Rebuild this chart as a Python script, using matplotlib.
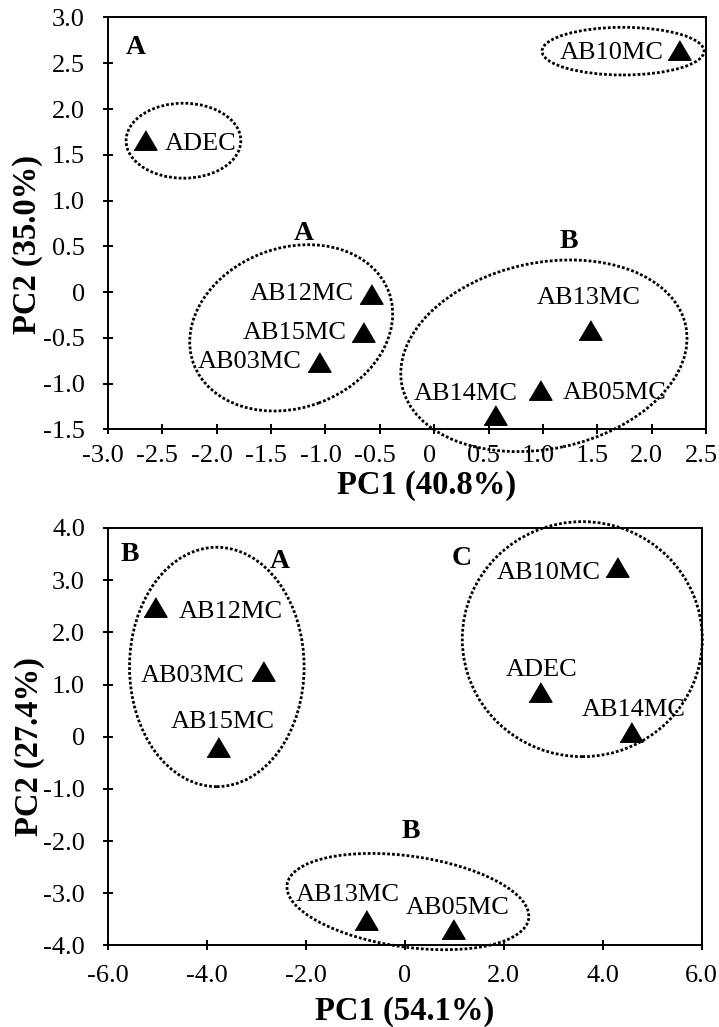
import matplotlib
matplotlib.use("Agg")
import matplotlib.pyplot as plt
from matplotlib.patches import Ellipse
from matplotlib.transforms import ScaledTranslation

plt.rcParams['font.family'] = ['Liberation Serif', 'DejaVu Serif']

# ---- data -------------------------------------------------------------
samples = ["ADEC", "AB03MC", "AB05MC", "AB10MC", "AB12MC", "AB13MC", "AB14MC", "AB15MC"]

# panel 1: PC1 (40.8%) vs PC2 (35.0%)
pc1_top = [-2.66, -1.06, 0.97, 2.25, -0.58, 1.43, 0.56, -0.65]
pc2_top = [1.66, -0.76, -1.07, 2.64, -0.02, -0.41, -1.34, -0.44]

# panel 2: PC1 (54.1%) vs PC2 (27.4%)
pc1_bot = [2.73, -2.86, 0.98, 4.29, -5.05, -0.79, 4.58, -3.78]
pc2_bot = [0.86, 1.26, -3.69, 3.25, 2.49, -3.51, 0.09, -0.20]

xticks_top = [-3.0, -2.5, -2.0, -1.5, -1.0, -0.5, 0, 0.5, 1.0, 1.5, 2.0, 2.5]
xticklabels_top = ["-3.0", "-2.5", "-2.0", "-1.5", "-1.0", "-0.5", "0", "0.5", "1.0", "1.5", "2.0", "2.5"]
yticks_top = [-1.5, -1.0, -0.5, 0, 0.5, 1.0, 1.5, 2.0, 2.5, 3.0]
yticklabels_top = ["-1.5", "-1.0", "-0.5", "0", "0.5", "1.0", "1.5", "2.0", "2.5", "3.0"]

xticks_bot = [-6.0, -4.0, -2.0, 0, 2.0, 4.0, 6.0]
xticklabels_bot = ["-6.0", "-4.0", "-2.0", "0", "2.0", "4.0", "6.0"]
yticks_bot = [-4.0, -3.0, -2.0, -1.0, 0, 1.0, 2.0, 3.0, 4.0]
yticklabels_bot = ["-4.0", "-3.0", "-2.0", "-1.0", "0", "1.0", "2.0", "3.0", "4.0"]

# ---- layout helpers ---------------------------------------------------
DPI = 100
fig = plt.figure(figsize=(7.19, 10.27), dpi=DPI)
ax1 = fig.add_axes([0.1502, 0.5818, 0.8317, 0.4012])
ax2 = fig.add_axes([0.1502, 0.0794, 0.8255, 0.4065])

# label placement relative to each marker: (dx px, dy px downward, ha)
offsets_top = {
    "ADEC": (20, 10.1, "left"), "AB03MC": (-17.3, 6.5, "right"),
    "AB05MC": (23, 8.5, "left"), "AB10MC": (-15, 8.8, "right"),
    "AB12MC": (-17.5, 6.2, "right"), "AB13MC": (-0.7, -25.7, "center"),
    "AB14MC": (23.1, -15, "right"), "AB15MC": (-16.3, 6.8, "right"),
}
offsets_bot = {
    "ADEC": (2, -15.8, "center"), "AB03MC": (-18.3, 10.7, "right"),
    "AB05MC": (4.5, -14.8, "center"), "AB10MC": (-16.7, 11.7, "right"),
    "AB12MC": (23.3, 11.7, "left"), "AB13MC": (-17.5, -19.3, "center"),
    "AB14MC": (2.3, -16, "center"), "AB15MC": (4.8, -19.1, "center"),
}

tri = [(-1, -0.85), (1, -0.85), (0, 0.85)]
PX = 72.0 / DPI


def ring(ax, cx, cy, w_px, h_px, angle=0.0):
    tr = fig.dpi_scale_trans + ScaledTranslation(cx, cy, ax.transData)
    e = Ellipse((0, 0), w_px / DPI, h_px / DPI, angle=angle, transform=tr,
                fill=False, edgecolor="black", lw=2.0, ls=(0, (1, 0.75)),
                clip_on=False, zorder=3)
    ax.add_patch(e)


def style(ax, xlim, ylim, xt, xtl, yt, ytl, xpad):
    ax.set_xlim(*xlim)
    ax.set_ylim(*ylim)
    ax.set_xticks(xt)
    ax.set_xticklabels(xtl)
    ax.set_yticks(yt)
    ax.set_yticklabels(ytl)
    for s in ax.spines.values():
        s.set_linewidth(1.4)
    ax.tick_params(axis="both", direction="inout", length=7.2, width=1.4,
                   labelsize=19, top=False, right=False)
    ax.tick_params(axis="y", pad=13)
    ax.tick_params(axis="x", pad=xpad)


def scatter(ax, xs, ys, offs):
    ax.plot(xs, ys, ls="none", marker=tri, ms=16.5, color="black", zorder=4)
    for name, x, y in zip(samples, xs, ys):
        dx, dy, ha = offs[name]
        ax.annotate(name, (x, y), xytext=(dx * PX, -dy * PX),
                    textcoords="offset points", ha=ha, va="baseline",
                    fontsize=19, zorder=5)


# ---- panel 1 ----------------------------------------------------------
style(ax1, (-3.0, 2.5), (-1.5, 3.0), xticks_top, xticklabels_top,
      yticks_top, yticklabels_top, xpad=7.5)
# the x tick labels of this panel sit slightly left of their ticks
shift = ScaledTranslation(-5 / DPI, 0, fig.dpi_scale_trans)
for lbl in ax1.get_xticklabels():
    lbl.set_transform(lbl.get_transform() + shift)
scatter(ax1, pc1_top, pc2_top, offsets_top)
ring(ax1, -2.306, 1.654, 114.7, 75)
ring(ax1, 1.737, 2.632, 162, 47.7)
ring(ax1, -1.315, -0.390, 208, 160, 20)
ring(ax1, 1.009, -0.695, 290, 186, 12)
for lab, x, y in [("A", -2.742, 2.597), ("A", -1.200, 0.569), ("B", 1.235, 0.477)]:
    ax1.text(x, y, lab, fontsize=20, fontweight="bold", ha="center", va="baseline")
ax1.set_xlabel("PC1 (40.8%)", fontsize=23.5, fontweight="bold")
ax1.set_ylabel("PC2 (35.0%)", fontsize=23.5, fontweight="bold")
ax1.xaxis.set_label_coords(0.533, -0.1367)
ax1.xaxis.label.set_verticalalignment("center")
ax1.yaxis.set_label_coords(-0.1346, 0.45)
ax1.yaxis.label.set_verticalalignment("center")

# ---- panel 2 ----------------------------------------------------------
style(ax2, (-6.0, 6.0), (-4.0, 4.0), xticks_bot, xticklabels_bot,
      yticks_bot, yticklabels_bot, xpad=10.4)
scatter(ax2, pc1_bot, pc2_bot, offsets_bot)
ring(ax2, -3.80, 1.337, 174.6, 239.4)
ring(ax2, 3.589, 1.870, 240, 235)
ring(ax2, 0.063, -3.159, 244, 91, -8)
for lab, x, y in [("B", -5.561, 3.366), ("A", -2.534, 3.239),
                  ("C", 1.142, 3.284), ("B", 0.130, -1.933)]:
    ax2.text(x, y, lab, fontsize=20, fontweight="bold", ha="center", va="baseline")
ax2.set_xlabel("PC1 (54.1%)", fontsize=23.5, fontweight="bold")
ax2.set_ylabel("PC2 (27.4%)", fontsize=23.5, fontweight="bold")
ax2.xaxis.set_label_coords(0.5, -0.1586)
ax2.xaxis.label.set_verticalalignment("center")
ax2.yaxis.set_label_coords(-0.133, 0.476)
ax2.yaxis.label.set_verticalalignment("center")

fig.savefig("out.png", dpi=DPI)
